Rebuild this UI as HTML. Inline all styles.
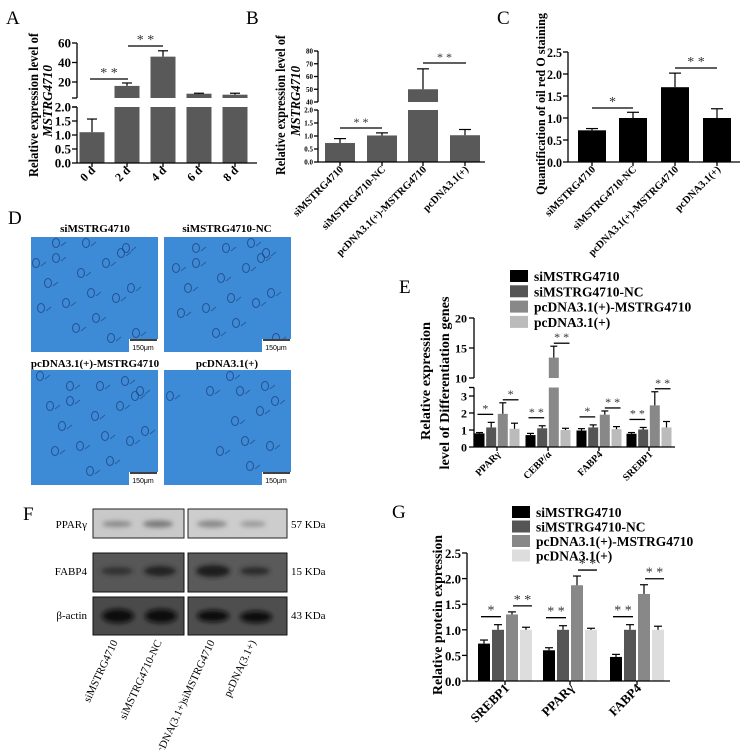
<!DOCTYPE html>
<html><head><meta charset="utf-8">
<style>
html,body{margin:0;padding:0;background:#fff;}
svg{display:block;font-family:"Liberation Serif",serif;}
.b{font-weight:bold;}
</style></head>
<body>
<svg id="fig" width="745" height="750" viewBox="0 0 745 750" xmlns="http://www.w3.org/2000/svg">
<rect width="745" height="750" fill="#fff"/>
<g font-size="19">
<text x="6" y="24">A</text><text x="246" y="24">B</text><text x="497" y="24">C</text>
<text x="8" y="224">D</text><text x="399" y="293">E</text><text x="23" y="520">F</text><text x="392" y="518">G</text>
</g>
<g>
<text class="b" x="95" y="232" font-size="11" text-anchor="middle">siMSTRG4710</text>
<text class="b" x="227" y="232" font-size="11" text-anchor="middle">siMSTRG4710-NC</text>
<text class="b" x="95" y="367" font-size="11" text-anchor="middle">pcDNA3.1(+)-MSTRG4710</text>
<text class="b" x="227" y="367" font-size="11" text-anchor="middle">pcDNA3.1(+)</text>
<g id="micro"></g>
</g>
<g font-size="11">
<defs>
<filter id="blur"><feGaussianBlur stdDeviation="2.5"/></filter>
</defs>
<rect x="93" y="509" width="91" height="29" fill="#c9c9c9" stroke="#222"/>
<rect x="188" y="509" width="99" height="29" fill="#cdcdcd" stroke="#222"/>
<rect x="93" y="553" width="91" height="39" fill="#575757" stroke="#111"/>
<rect x="188" y="553" width="99" height="39" fill="#5a5a5a" stroke="#111"/>
<rect x="93" y="597" width="91" height="38" fill="#4a4a4a" stroke="#111"/>
<rect x="188" y="597" width="99" height="38" fill="#4e4e4e" stroke="#111"/>
<g filter="url(#blur)">
<ellipse cx="117" cy="524" rx="15" ry="3" fill="#888"/><ellipse cx="158" cy="524" rx="15" ry="3.5" fill="#777"/>
<ellipse cx="212" cy="524" rx="15" ry="3.5" fill="#888"/><ellipse cx="253" cy="524" rx="13" ry="3" fill="#999"/>
<ellipse cx="117" cy="571" rx="16" ry="4" fill="#333"/><ellipse cx="160" cy="571" rx="16" ry="5" fill="#222"/>
<ellipse cx="213" cy="571" rx="17" ry="6" fill="#1a1a1a"/><ellipse cx="255" cy="571" rx="15" ry="4" fill="#2a2a2a"/>
<ellipse cx="118" cy="616" rx="16" ry="7" fill="#0a0a0a"/><ellipse cx="161" cy="616" rx="16" ry="7" fill="#0a0a0a"/>
<ellipse cx="213" cy="616" rx="16" ry="6" fill="#0d0d0d"/><ellipse cx="256" cy="617" rx="16" ry="6" fill="#0d0d0d"/>
</g>
<text x="87" y="528" text-anchor="end">PPARγ</text>
<text x="87" y="575" text-anchor="end">FABP4</text>
<text x="87" y="619" text-anchor="end">β-actin</text>
<text x="291" y="528">57 KDa</text>
<text x="291" y="575">15 KDa</text>
<text x="291" y="619">43 KDa</text>
<text transform="translate(118,642) rotate(-65)" text-anchor="end">siMSTRG4710</text>
<text transform="translate(162,642) rotate(-65)" text-anchor="end">siMSTRG4710-NC</text>
<text transform="translate(215,642) rotate(-65)" text-anchor="end">pcDNA(3.1+)siMSTRG4710</text>
<text transform="translate(256,642) rotate(-65)" text-anchor="end">pcDNA(3.1+)</text>
</g>
<g id="charts"></g>
</svg>
<script>
const aCats = ["0 d","2 d","4 d","6 d","8 d"];
const aVals = [1.1, 16, 46, 8, 7];
const aErr = [1.57, 19, 52, 8.5, 8.5];
const bCats = ["siMSTRG4710","siMSTRG4710-NC","pcDNA3.1(+)-MSTRG4710","pcDNA3.1(+)"];
const bVals = [0.73, 1.02, 50, 1.03];
const bErr = [0.9, 1.12, 66, 1.25];
const cCats = ["siMSTRG4710","siMSTRG4710-NC","pcDNA3.1(+)-MSTRG4710","pcDNA3.1(+)"];
const cVals = [0.72, 1.0, 1.7, 1.0];
const cErr = [0.76, 1.13, 2.02, 1.21];
const series = ["siMSTRG4710","siMSTRG4710-NC","pcDNA3.1(+)-MSTRG4710","pcDNA3.1(+)"];
const eCats = ["PPARγ","CEBP/α","FABP4","SREBP1"];
const eVals = [[0.8,0.7,0.97,0.78],[1.15,1.1,1.15,1.03],[1.95,13.4,1.9,2.45],[1.07,1.0,1.05,1.15]];
const eErr = [[0.85,0.8,1.08,0.85],[1.45,1.25,1.3,1.15],[2.6,15.3,2.12,3.25],[1.4,1.1,1.2,1.5]];
const gCats = ["SREBP1","PPARγ","FABP4"];
const gVals = [[0.73,0.6,0.47],[1.0,1.0,1.0],[1.3,1.87,1.7],[1.0,1.0,1.0]];
const gErr = [[0.8,0.65,0.52],[1.1,1.08,1.1],[1.35,2.05,1.88],[1.05,1.03,1.07]];
const aTicksLo = [0,0.5,1,1.5,2], aTicksHi = [20,40,60];
const bTicksLo = [0,0.5,1,1.5,2], bTicksHi = [40,50,60,70,80];
const cTicks = [0,0.5,1,1.5,2,2.5];
const eTicksLo = [0,1,2,3], eTicksHi = [10,15,20];
const gTicks = [0,0.5,1,1.5,2,2.5];

const NS = "http://www.w3.org/2000/svg";
const root = document.getElementById('charts');
function mk(tag, attrs, parent, txt){
  const e = document.createElementNS(NS, tag);
  for (const k in attrs) e.setAttribute(k, attrs[k]);
  if (txt !== undefined) e.textContent = txt;
  (parent||root).appendChild(e);
  return e;
}
function grp(name){
  const g = document.createElementNS(NS,'g');
  
  
  root.appendChild(g);
  return g;
}
function line(g,x1,y1,x2,y2,w){ return mk('line',{x1,y1,x2,y2,stroke:'#000','stroke-width':w||1.3},g); }
function fmt(v,d){ return d ? v.toFixed(d) : String(v); }

function brokenScale(lo0, lo1, yLo0, yLo1, hi0, hi1, yHi0, yHi1){
  const lo = v => yLo0 + (v-lo0)*(yLo1-yLo0)/(lo1-lo0);
  const hi = v => yHi0 + (v-hi0)*(yHi1-yHi0)/(hi1-hi0);
  return {lo, hi, loMax: lo1, hiMin: hi0};
}
function brokenBar(g, s, x, w, v, color){
  const top = Math.min(v, s.loMax);
  const r = mk('rect',{x:x-w/2,y:s.lo(top),width:w,height:s.lo(0)-s.lo(top),fill:color},g);
  
  
  if (v > s.loMax){
    const yb = s.hi(s.hiMin), yt = s.hi(Math.max(v, s.hiMin));
    const r2 = mk('rect',{x:x-w/2,y:yt,width:w,height:Math.max(0,yb-yt),fill:color},g);
    
    
  }
}
function yOf(s, v){ return v > s.loMax ? s.hi(Math.max(v,s.hiMin)) : s.lo(v); }
function errBar(g, s, x, v, e, cw){
  const y1 = yOf(s, v), y2 = yOf(s, e);
  line(g, x, y1, x, y2, 1.2);
  line(g, x-cw, y2, x+cw, y2, 1.2);
}
function sig(g, x1, x2, y, txt, fs){
  line(g, x1, y, x2, y, 1.3);
  mk('text',{x:(x1+x2)/2,y:y-2,'text-anchor':'middle','font-size':fs||14,fill:'#333'},g,txt);
}
function catLabel(g, x, y, t, fs){
  const e = mk('text',{transform:`translate(${x},${y}) rotate(-45)`,'text-anchor':'end','font-size':fs,'font-weight':'bold'},g,t);
  
  
}
function yLabel(g, x, y, t, fs, len, italic){
  const e = mk('text',{transform:`translate(${x},${y}) rotate(-90)`,'text-anchor':'middle','font-size':fs,'font-weight':'bold','font-style':italic?'italic':'normal',textLength:len,lengthAdjust:'spacingAndGlyphs'},g,t);
  
  
}

// Panel A
(function(){
  const g = grp('panel-a-chart');
  const s = brokenScale(0,2,163,107, 3.6,60,98,43);
  const ax = 77, xs = [92,127,163,199,235], w = 25;
  aVals.forEach((v,i)=>{ brokenBar(g,s,xs[i],w,v,'#595959'); errBar(g,s,xs[i],v,aErr[i],5); });
  line(g,ax,107,ax,163); line(g,ax,43,ax,98); line(g,ax,163,257,163);
  aTicksLo.forEach(t=>{ const y=s.lo(t); line(g,ax-5,y,ax,y);
    mk('text',{x:ax-6,y:y+4.5,'text-anchor':'end','font-size':13,'font-weight':'bold'},g,fmt(t,1)); });
  aTicksHi.forEach(t=>{ const y=s.hi(t); line(g,ax-5,y,ax,y);
    mk('text',{x:ax-6,y:y+4.5,'text-anchor':'end','font-size':13,'font-weight':'bold'},g,fmt(t)); });
  line(g,ax-5,98,ax,98); line(g,ax-5,107,ax,107);
  xs.forEach((x,i)=>{ line(g,x,163,x,167); catLabel(g,x+4,171,aCats[i],12); });
  sig(g,90,128,79,'* *',14); sig(g,128,163,46,'* *',14);
  yLabel(g,38,105,'Relative expression level of',14,144,false);
  yLabel(g,52,101,'MSTRG4710',14,72,true);
})();

// Panel B
(function(){
  const g = grp('panel-b-chart');
  const s = brokenScale(0,2,162,110, 40,80,102,51);
  const ax = 318, xs = [340,382,423,465], w = 30;
  bVals.forEach((v,i)=>{ brokenBar(g,s,xs[i],w,v,'#595959'); errBar(g,s,xs[i],v,bErr[i],6); });
  line(g,ax,110,ax,162); line(g,ax,51,ax,102); line(g,ax,162,485,162);
  bTicksLo.forEach(t=>{ const y=s.lo(t); line(g,ax-4,y,ax,y);
    mk('text',{x:ax-5,y:y+2.5,'text-anchor':'end','font-size':7,'font-weight':'bold'},g,fmt(t,1)); });
  bTicksHi.forEach(t=>{ const y=s.hi(t); line(g,ax-4,y,ax,y);
    mk('text',{x:ax-5,y:y+2.5,'text-anchor':'end','font-size':7,'font-weight':'bold'},g,fmt(t)); });
  xs.forEach((x,i)=>{ line(g,x,162,x,166); catLabel(g,x+4,170,bCats[i],10.5); });
  sig(g,340,382,128,'* *',12); sig(g,423,466,63,'* *',12);
  yLabel(g,285,105,'Relative expression level of',14,140,false);
  yLabel(g,300,101,'MSTRG4710',14,70,true);
})();

// Panel C
(function(){
  const g = grp('panel-c-chart');
  const y = v => 162 - v*(110/2.5);
  const ax = 568, xs = [592,633,675,717], w = 28;
  cVals.forEach((v,i)=>{
    const r = mk('rect',{x:xs[i]-w/2,y:y(v),width:w,height:y(0)-y(v),fill:'#000'},g);
     
    line(g,xs[i],y(v),xs[i],y(cErr[i]),1.2); line(g,xs[i]-6,y(cErr[i]),xs[i]+6,y(cErr[i]),1.2);
  });
  line(g,ax,52,ax,162); line(g,ax,162,740,162);
  cTicks.forEach(t=>{ line(g,ax-5,y(t),ax,y(t));
    mk('text',{x:ax-6,y:y(t)+5,'text-anchor':'end','font-size':13,'font-weight':'bold',textLength:15,lengthAdjust:'spacingAndGlyphs'},g,fmt(t,1)); });
  xs.forEach((x,i)=>{ line(g,x,162,x,166); catLabel(g,x+4,170,cCats[i],10.5); });
  sig(g,592,633,108,'*',14); sig(g,675,717,68,'* *',14);
  yLabel(g,545,104,'Quantification of oil red O staining',13,182,false);
})();

function legend(name, x, y0, colors, sp){
  const g = grp(name);
  series.forEach((sname,i)=>{
    const y = y0 + i*sp;
    mk('rect',{x:x,y:y-6,width:18,height:12,fill:colors[i]},g);
    const t = mk('text',{x:x+24,y:y+5,'font-size':13.5,'font-weight':'bold'},g,sname);
    
    
  });
}
const eColors = ['#000','#555','#888','#bbb'];
const gColors = ['#000','#555','#888','#ddd'];

// Panel E
(function(){
  legend('panel-e-legend',510,276,eColors,15.3);
  const g = grp('panel-e-chart');
  const s = brokenScale(0,3.5,447,387.5, 10,20,378,318);
  const ax = 474, centers = [497,548,599,649], w = 10, off = [-17.5,-5.8,5.8,17.5];
  eCats.forEach((c,ci)=>{
    series.forEach((sn,si)=>{
      const x = centers[ci]+off[si];
      brokenBar(g,s,x,w,eVals[si][ci],eColors[si]);
      errBar(g,s,x,eVals[si][ci],eErr[si][ci],3.5);
    });
    line(g,centers[ci],447,centers[ci],451);
    catLabel(g,centers[ci]+4,455,c,10);
    const x0=centers[ci]+off[0], x1=centers[ci]+off[1], x2=centers[ci]+off[2], x3=centers[ci]+off[3];
    const st1 = ['*','* *','*','* *'][ci], st2 = ['*','* *','* *','* *'][ci];
    const y1 = yOf(s, eErr[1][ci]) - 8;
    const y2 = yOf(s, Math.max(eErr[2][ci],eErr[3][ci])) - 3;
    sig(g,x0-2,x1+2,y1,st1,12); sig(g,x2,x3+4,y2,st2,12);
  });
  line(g,ax,387.5,ax,447); line(g,ax,318,ax,378); line(g,ax,447,675,447);
  eTicksLo.forEach(t=>{ const y=s.lo(t); line(g,ax-5,y,ax,y);
    mk('text',{x:ax-7,y:y+4.5,'text-anchor':'end','font-size':12,'font-weight':'bold'},g,fmt(t)); });
  eTicksHi.forEach(t=>{ const y=s.hi(t); line(g,ax-5,y,ax,y);
    mk('text',{x:ax-7,y:y+4.5,'text-anchor':'end','font-size':12,'font-weight':'bold'},g,fmt(t)); });
  line(g,ax-5,387.5,ax,387.5);
  yLabel(g,430,381,'Relative expression',14,118,false);
  yLabel(g,449,383,'level of Differentiation genes',14,173,false);
})();

// Panel G
(function(){
  legend('panel-g-legend',512,512,gColors,14.5);
  const g = grp('panel-g-chart');
  const y = v => 681 - v*(128/2.5);
  const ax = 467, centers = [505,570,637], w = 12, off = [-21,-7,7,21];
  gCats.forEach((c,ci)=>{
    series.forEach((sn,si)=>{
      const x = centers[ci]+off[si], v = gVals[si][ci], e = gErr[si][ci];
      const r = mk('rect',{x:x-w/2,y:y(v),width:w,height:y(0)-y(v),fill:gColors[si]},g);
       
      line(g,x,y(v),x,y(e),1.2); line(g,x-4,y(e),x+4,y(e),1.2);
    });
    line(g,centers[ci],681,centers[ci],685);
    catLabel(g,centers[ci]+5,689,c,13);
    const st1 = ['*','* *','* *'][ci];
    sig(g,centers[ci]+off[0]-3,centers[ci]+off[1]+3,y(gErr[1][ci])-8,st1,14);
    sig(g,centers[ci]+off[2]+1,centers[ci]+off[3]+6,y(Math.max(gErr[2][ci],gErr[3][ci]))-6,'* *',14);
  });
  line(g,ax,553,ax,681); line(g,ax,681,670,681);
  gTicks.forEach(t=>{ line(g,ax-5,y(t),ax,y(t));
    mk('text',{x:ax-6,y:y(t)+5,'text-anchor':'end','font-size':13,'font-weight':'bold',textLength:16,lengthAdjust:'spacingAndGlyphs'},g,fmt(t,1)); });
  yLabel(g,442,615,'Relative protein expression',14,160,false);
})();

// micrographs
(function(){
  const m = document.getElementById('micro');
  const panels = [[31,237],[164,237],[31,370],[164,370]];
  const rings = [[20,15],[45,30],[70,20],[95,45],[30,60],[60,75],[100,90],[20,100],[80,55],[110,20],[50,100],[90,105],[12,40],[40,85],[75,95],[115,65],[55,50],[85,10]];
  panels.forEach((p,pi)=>{
    const r = mk('rect',{x:p[0],y:p[1],width:127,height:115,fill:'#3d8ad6'},m);
    
    
    rings.forEach((c,ci)=>{
      if (pi===3 && ci%3===0) return;
      const cx = p[0]+((c[0]+pi*7)%110)+5, cy = p[1]+((c[1]+pi*5)%100)+6;
      mk('ellipse',{cx:cx,cy:cy,rx:3.5,ry:4.5,fill:'none',stroke:'#1d3f7a','stroke-width':1,opacity:0.75},m);
      mk('line',{x1:cx+5,y1:cy+3,x2:cx+10,y2:cy-1,stroke:'#1d3f7a','stroke-width':1,opacity:0.6},m);
    });
    mk('rect',{x:p[0]+98,y:p[1]+102,width:29,height:13,fill:'#fff'},m);
    mk('line',{x1:p[0]+99,y1:p[1]+103,x2:p[0]+126,y2:p[1]+103,stroke:'#000','stroke-width':1.5},m);
    mk('text',{x:p[0]+112,y:p[1]+113,'text-anchor':'middle','font-size':7,'font-family':'Liberation Sans, sans-serif'},m,'150μm');
  });
})();
</script>
</body></html>
